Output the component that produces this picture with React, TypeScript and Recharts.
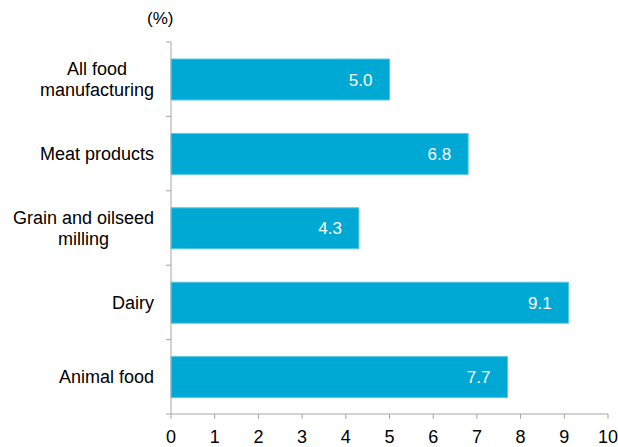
import { BarChart, Bar, XAxis, YAxis, LabelList } from "recharts";

const categories = [
  "All food\nmanufacturing",
  "Meat products",
  "Grain and oilseed\nmilling",
  "Dairy",
  "Animal food",
];
const values = [5.0, 6.8, 4.3, 9.1, 7.7];
const xTicks = [0, 1, 2, 3, 4, 5, 6, 7, 8, 9, 10];

const data = categories.map((name, i) => ({ name, value: values[i] }));

const W = 618;
const H = 447;
const X_HEIGHT = 33;
const MARGIN = { top: 42, right: 10, bottom: 0, left: 0 };
const Y_WIDTH = 171;
const BAND = (H - MARGIN.top - X_HEIGHT) / categories.length;
const AXIS = "#a6a6a6";
const FONT = "'Liberation Sans', Arial, sans-serif";
const LABEL_SIZE = 18;

let ctx: CanvasRenderingContext2D | null = null;
function textWidth(s: string) {
  if (!ctx) ctx = document.createElement("canvas").getContext("2d");
  if (!ctx) return s.length * 9;
  ctx.font = `${LABEL_SIZE}px ${FONT}`;
  return ctx.measureText(s).width;
}

const CategoryTick = ({ y, payload, index }: any) => {
  const lines = String(payload.value).split("\n");
  const maxW = Math.max(...lines.map(textWidth));
  const right = 154;
  const cx = right - maxW / 2;
  const lh = 21;
  const axisX = Y_WIDTH;
  return (
    <g>
      <line x1={axisX - 5} x2={axisX} y1={y - BAND / 2} y2={y - BAND / 2} stroke={AXIS} />
      {index === categories.length - 1 && (
        <line x1={axisX - 5} x2={axisX} y1={y + BAND / 2} y2={y + BAND / 2} stroke={AXIS} />
      )}
      {lines.map((l, i) => (
        <text
          key={i}
          x={cx}
          y={y + (i - (lines.length - 1) / 2) * lh}
          dy="0.35em"
          textAnchor="middle"
          fontSize={LABEL_SIZE}
          fontFamily={FONT}
          fill="#000"
        >
          {l}
        </text>
      ))}
    </g>
  );
};

export default function App() {
  return (
    <div style={{ position: "absolute", left: 0, top: 0, width: W, height: H, background: "#fff" }}>
      <div
        style={{
          position: "absolute",
          left: 147,
          top: 9,
          fontFamily: FONT,
          fontSize: 17,
          color: "#000",
        }}
      >
        (%)
      </div>
      <BarChart width={W} height={H} data={data} layout="vertical" margin={MARGIN} barSize={41}>
        <XAxis
          type="number"
          domain={[0, 10]}
          ticks={xTicks}
          interval={0}
          stroke={AXIS}
          tickSize={5}
          tickMargin={11}
          tick={{ fill: "#000", fontSize: 18, fontFamily: FONT }}
          height={X_HEIGHT}
        />
        <YAxis
          type="category"
          dataKey="name"
          width={Y_WIDTH}
          stroke={AXIS}
          tickLine={false}
          interval={0}
          tick={<CategoryTick />}
        />
        <Bar dataKey="value" fill="#00a9d4" stroke="#5cc6e4" strokeWidth={1} isAnimationActive={false}>
          <LabelList
            dataKey="value"
            position="insideRight"
            offset={17}
            formatter={(v: any) => Number(v).toFixed(1)}
            style={{ fill: "#fff", fontSize: 17, fontFamily: FONT }}
          />
        </Bar>
      </BarChart>
    </div>
  );
}
